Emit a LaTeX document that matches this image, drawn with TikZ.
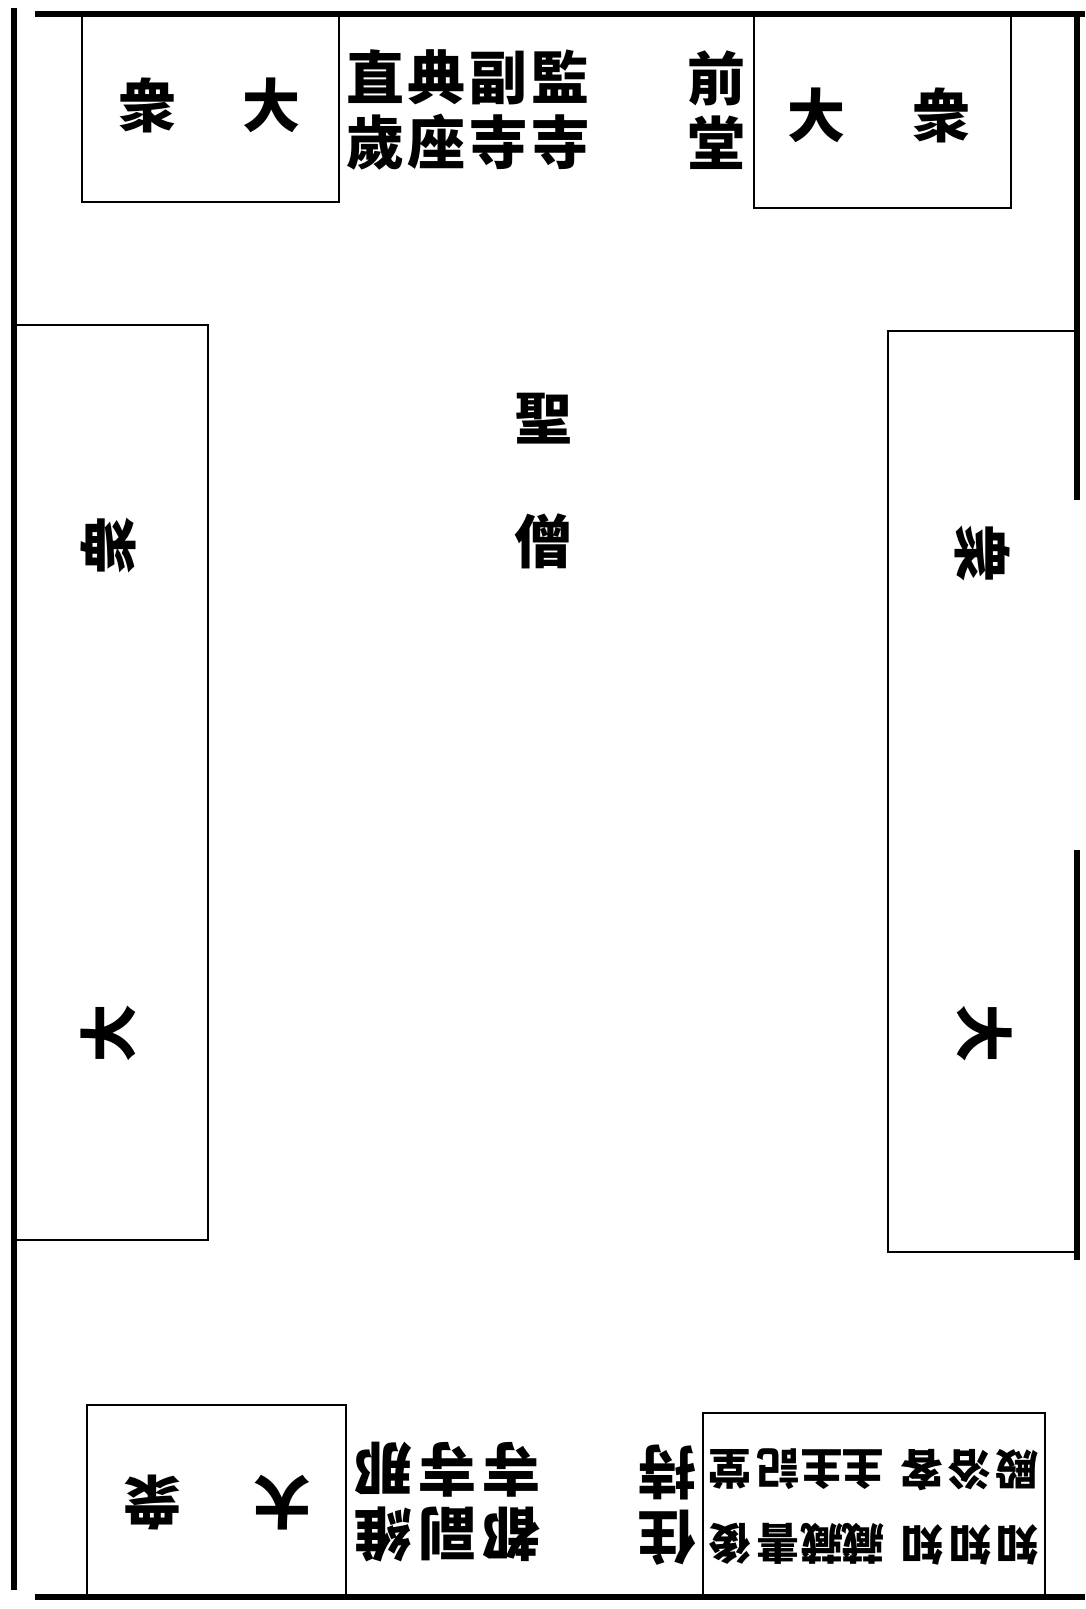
\documentclass[tikz,border=0pt]{standalone}
\usepackage{fontspec}
\newfontfamily\cjk{Noto Sans CJK TC}
\tikzset{
  thickline/.style={line width=5.5pt},
  thinline/.style={line width=2.8pt},
  big/.style={font=\cjk\bfseries\fontsize{58}{65}\selectfont, inner sep=0pt, align=center},
  small/.style={font=\cjk\bfseries\fontsize{43}{75}\selectfont, inner sep=0pt, align=center}
}
\begin{document}
\begin{tikzpicture}[x=1pt,y=-1pt]
\useasboundingbox (0,0) rectangle (1085,1609);
\fill[white] (0,0) rectangle (1085,1609);
% outer frame
\draw[thickline] (14,8) -- (14,1590);
\draw[thickline] (35,14) -- (1085,14);
\draw[thickline] (1077,14) -- (1077,500);
\draw[thickline] (1077,850) -- (1077,1260);
\draw[thickline] (35,1597) -- (1085,1597);
% top boxes
\draw[thinline] (82,14) -- (82,202) -- (339,202) -- (339,14);
\draw[thinline] (754,14) -- (754,208) -- (1011,208) -- (1011,14);
% side boxes
\draw[thinline] (14,325) -- (208,325) -- (208,1240) -- (14,1240);
\draw[thinline] (1077,331) -- (888,331) -- (888,1252) -- (1077,1252);
% bottom boxes
\draw[thinline] (87,1597) -- (87,1405) -- (346,1405) -- (346,1597);
\draw[thinline] (703,1597) -- (703,1413) -- (1045,1413) -- (1045,1597);
% top texts
\node[big] (tlz) at (147,105) {衆};
\node[big] (tld) at (271,105) {大};
\node[big] (trd) at (816,115) {大};
\node[big] (trz) at (941,115) {衆};
\node[big] (zhi) at (375,110) {直\\歲};
\node[big] (dian) at (436,110) {典\\座};
\node[big] (fu) at (498,110) {副\\寺};
\node[big] (jian) at (560,110) {監\\寺};
\node[big] (qian) at (716,110) {前\\堂};
% side texts
\node[big, rotate=90] (lz) at (108,545) {衆};
\node[big, rotate=90] (ld) at (108,1033) {大};
\node[big, rotate=-90] (rz) at (983,553) {衆};
\node[big, rotate=-90] (rd) at (985,1033) {大};
% centre
\node[big] (sheng) at (543,419) {聖};
\node[big] (seng) at (543,541) {僧};
% bottom texts (upside down)
\node[big, rotate=180] (blz) at (152,1503) {衆};
\node[big, rotate=180] (bld) at (282,1503) {大};
\node[big, rotate=180] (weina) at (383,1502) {維\\那};
\node[big, rotate=180] (fusi) at (447,1502) {副\\寺};
\node[big, rotate=180] (dusi) at (511,1502) {都\\寺};
\node[big, rotate=180] (zhuchi) at (667,1505) {住\\持};
\node[small, rotate=180] (houtang) at (730,1507) {後\\堂};
\node[small, rotate=180] (shuji) at (778,1507) {書\\記};
\node[small, rotate=180] (zangzhuA) at (822,1507) {藏\\主};
\node[small, rotate=180] (zangzhuB) at (863,1507) {藏\\主};
\node[small, rotate=180] (zhike) at (922,1507) {知\\客};
\node[small, rotate=180] (zhiyu) at (970,1507) {知\\浴};
\node[small, rotate=180] (zhidian) at (1017,1507) {知\\殿};
\end{tikzpicture}
\end{document}
